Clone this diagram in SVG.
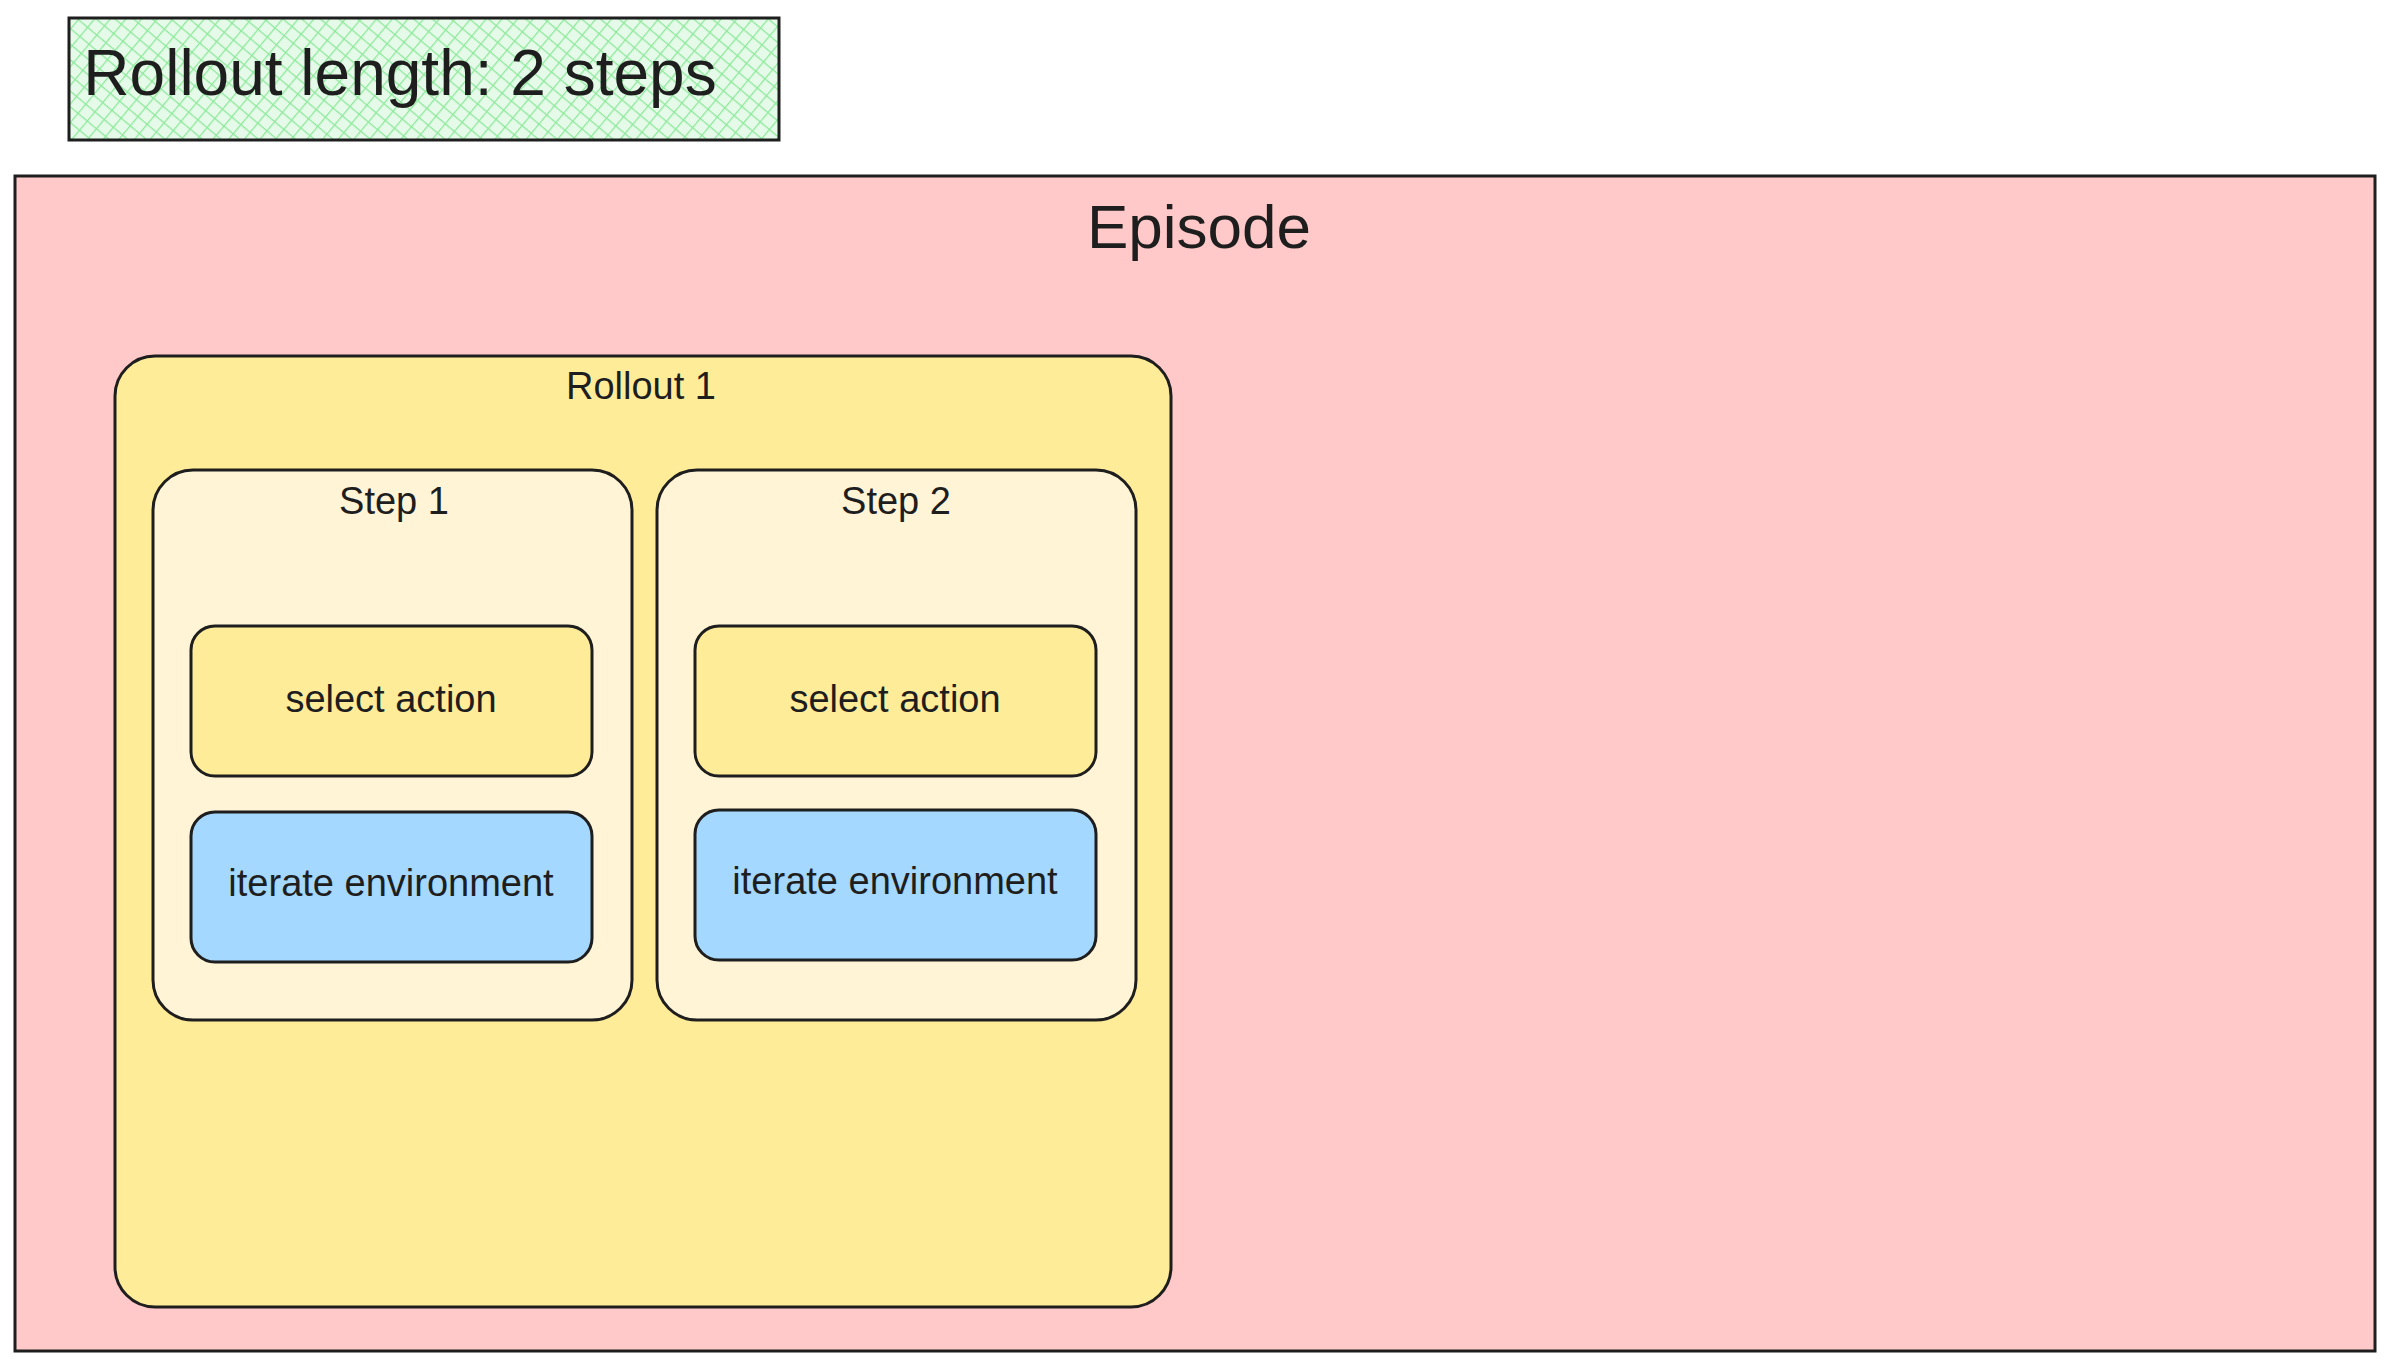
<svg xmlns="http://www.w3.org/2000/svg" width="2395" height="1369" viewBox="0 0 2395 1369">
<style>
.b{stroke:#1e1e1e;stroke-width:3;}
.t{font-family:"Liberation Sans",Arial,sans-serif;fill:#1e1e1e;text-anchor:middle;dominant-baseline:middle;}
</style>
<defs>
<pattern id="h" width="12" height="12" patternUnits="userSpaceOnUse" patternTransform="rotate(40)">
<rect width="12" height="12" fill="#e6fae9"/>
<line x1="0" y1="0" x2="0" y2="12" stroke="#8ce99a" stroke-width="2.5"/>
<line x1="0" y1="0" x2="12" y2="0" stroke="#8ce99a" stroke-width="2.5"/>
</pattern>
</defs>
<rect width="2395" height="1369" fill="#ffffff"/>
<g id="title"><rect class="b" x="69" y="18" width="710" height="122" fill="url(#h)"/><text class="t" x="400" y="78" font-size="64">Rollout length: 2 steps</text></g>
<g id="episode"><rect class="b" x="15" y="176" width="2360" height="1175" fill="#ffc9c9"/><text class="t" x="1199" y="232" font-size="62">Episode</text></g>
<g id="rollout1"><rect class="b" x="115" y="356" width="1056" height="951" rx="40" fill="#ffec99"/><text class="t" x="641" y="389" font-size="38">Rollout 1</text></g>
<g id="step1"><rect class="b" x="153" y="470" width="479" height="550" rx="40" fill="#fff5d6"/><text class="t" x="394" y="504" font-size="38">Step 1</text></g>
<g id="step2"><rect class="b" x="657" y="470" width="479" height="550" rx="40" fill="#fff5d6"/><text class="t" x="896" y="504" font-size="38">Step 2</text></g>
<g id="sel1"><rect class="b" x="191" y="626" width="401" height="150" rx="24" fill="#ffec99"/><text class="t" x="391" y="702" font-size="38">select action</text></g>
<g id="env1"><rect class="b" x="191" y="812" width="401" height="150" rx="24" fill="#a5d8ff"/><text class="t" x="391" y="886" font-size="38">iterate environment</text></g>
<g id="sel2"><rect class="b" x="695" y="626" width="401" height="150" rx="24" fill="#ffec99"/><text class="t" x="895" y="702" font-size="38">select action</text></g>
<g id="env2"><rect class="b" x="695" y="810" width="401" height="150" rx="24" fill="#a5d8ff"/><text class="t" x="895" y="884" font-size="38">iterate environment</text></g>
<g id="connectors"></g>
</svg>
